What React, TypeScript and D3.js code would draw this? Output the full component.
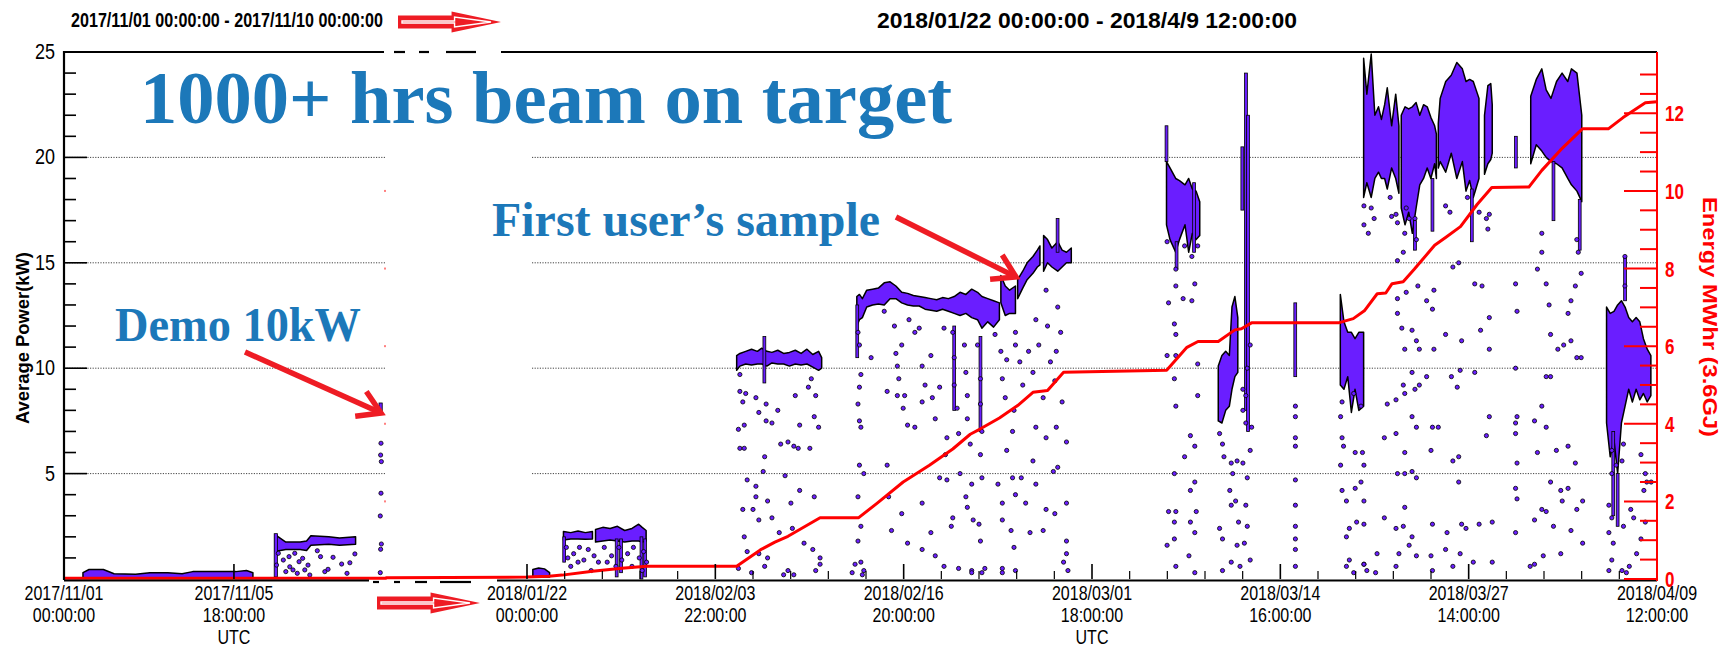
import * as d3 from "d3";

const DAY = 86400000;
const L0 = Date.UTC(2017, 10, 1);
const L1 = Date.UTC(2017, 10, 10);
const R0 = Date.UTC(2018, 0, 22);
const R1 = Date.UTC(2018, 3, 9, 12);

// ---- left panel (days since 2017/11/01), [day, low kW, high kW]
const bandNovLow = [[0.53,0.05,0.3],[0.7,0.05,0.45],[1.1,0.05,0.45],[1.4,0.05,0.25],[2.0,0.05,0.22],[2.4,0.05,0.3],[2.9,0.05,0.3],[3.3,0.05,0.25],[3.6,0.05,0.35],[4.2,0.05,0.35],[4.8,0.05,0.35],[5.1,0.05,0.4],[5.28,0.05,0.3]];
const bandNov2kW = [[5.9,1.3,2.1],[6.2,1.4,1.75],[6.6,1.4,1.75],[6.78,1.35,1.8],[6.9,1.6,2.05],[7.4,1.65,2.0],[7.7,1.6,1.95],[8.15,1.65,2.0]];
const streaksNov = [[5.92,0.1,2.15],[8.85,7.9,8.35]];
const pointsNov = [[5.94,0.66],[5.99,1.22],[6.13,0.9],[6.31,0.58],[6.4,0.43],[6.45,1.22],[6.57,0.82],[6.67,0.98],[6.73,0.43],[6.82,0.66],[7.08,1.34],[7.17,1.06],[7.29,0.35],[7.38,0.46],[7.52,1.03],[7.76,0.71],[7.91,0.27],[7.99,0.77],[8.13,1.19],[6.2,0.35],[6.52,0.27],[6.87,0.19],[6.29,1.06],
  [8.86,6.44],[8.85,5.88],[8.87,5.57],[8.86,4.07],[8.84,2.99],[8.87,1.66],[8.85,1.41],[8.84,0.3]];
const energyNov = [[0,0.02],[9,0.02]];

// ---- right panel (days since 2018/01/22), [day, low kW, high kW]
const bandJan22 = [[0.4,0.1,0.45],[0.8,0.1,0.52],[1.2,0.1,0.48],[1.55,0.1,0.3]];
const bandJan24 = [[2.5,1.85,2.25],[3.0,1.9,2.2],[3.5,1.9,2.28],[4.0,1.88,2.2],[4.49,1.9,2.25]];
const bandJan26 = [[4.7,1.75,2.35],[5.2,1.8,2.45],[5.7,1.85,2.4],[6.2,1.8,2.5],[6.7,1.75,2.3],[7.2,1.8,2.4],[7.66,1.8,2.6],[7.9,1.75,2.45],[8.17,1.8,2.3]];
const bandFeb5 = [[14.38,9.9,10.6],[14.6,10.1,10.7],[15.0,10.2,10.8],[15.4,10.15,10.9],[15.8,10.2,10.8],[16.1,10.2,10.95],[16.45,10.1,10.8],[16.8,10.25,10.75],[17.2,10.2,10.85],[17.6,10.2,10.7],[18.0,10.1,10.75],[18.4,10.2,10.85],[18.8,10.15,10.7],[19.2,10.2,10.9],[19.6,10.05,10.65],[20.0,9.9,10.8],[20.21,10.0,10.5]];
const bandFeb13 = [[22.62,12.0,13.4],[22.8,12.3,13.5],[23.0,12.4,13.3],[23.3,12.9,13.7],[23.7,13.0,13.75],[24.1,13.05,13.8],[24.5,13.0,14.05],[24.9,13.3,14.1],[25.3,13.3,13.9],[25.7,13.1,13.6],[26.1,13.0,13.55],[26.5,12.95,13.45],[26.9,12.95,13.4],[27.3,12.8,13.35],[27.7,12.75,13.3],[28.1,12.7,13.25],[28.5,12.8,13.35],[28.9,12.7,13.3],[29.3,12.6,13.4],[29.7,12.5,13.6],[30.1,12.6,13.5],[30.5,12.4,13.75],[30.9,12.3,13.6],[31.2,11.9,13.4],[31.6,12.2,13.3],[32.0,11.95,13.2],[32.4,12.3,13.1]];
const bandFeb23 = [[32.5,13.1,14.4],[32.8,12.5,13.9],[33.1,12.6,13.7],[33.5,12.6,13.9]];
const bandFeb24 = [[33.65,13.3,14.2],[34.0,13.8,14.6],[34.3,14.2,15.0],[34.7,14.5,15.3],[35.0,14.8,15.6],[35.18,14.9,15.8]];
const bandFeb26 = [[35.43,14.6,16.3],[35.7,15.0,16.1],[36.0,14.8,15.7],[36.4,14.6,16.0],[36.7,14.8,15.6],[37.0,15.0,15.5],[37.33,15.0,15.7]];
const bandMar6 = [[43.86,16.8,19.8],[44.1,16.1,19.5],[44.49,15.5,19.0],[44.75,16.1,18.9],[45.13,16.8,18.7],[45.38,15.5,19.0],[45.63,16.4,18.5],[45.89,16.1,18.4],[46.14,16.3,17.9]];
const bandMar9 = [[47.41,7.5,10.1],[47.66,7.4,10.6],[47.92,8.0,10.8],[48.17,8.2,10.6],[48.35,9.0,12.9],[48.55,9.6,13.4],[48.75,9.8,12.4]];
const bandMar17 = [[55.78,9.2,13.5],[56.03,9.0,12.2],[56.29,9.6,11.7],[56.54,7.9,11.7],[56.79,9.0,11.4],[57.05,8.0,11.7],[57.38,8.2,11.7]];
const bandMar19 = [[57.38,18.1,24.7],[57.6,18.8,23.0],[57.9,18.1,24.9],[58.15,19.0,22.0],[58.4,19.3,22.4],[58.6,19.0,21.8],[58.82,19.0,22.5],[59.0,18.5,23.3],[59.3,19.5,21.5],[59.58,19.0,23.0],[59.8,18.3,21.5]];
const bandMar21 = [[59.96,17.6,22.0],[60.22,16.8,22.4],[60.47,17.4,22.3],[60.72,16.4,22.4],[60.98,17.6,22.6],[61.23,18.7,22.0],[61.49,19.0,22.5],[61.74,19.5,22.4],[61.99,19.0,21.9],[62.25,19.7,21.5],[62.37,19.0,21.1]];
const bandMar24 = [[62.5,19.5,21.6],[62.63,19.8,22.8],[63.01,19.3,23.6],[63.39,20.2,23.9],[63.77,19.0,24.5],[64.15,19.8,24.2],[64.4,18.4,23.6],[64.65,18.9,23.7],[64.9,18.1,23.6],[65.29,19.0,22.8]];
const bandMar27 = [[65.67,19.2,22.0],[65.9,19.7,23.4],[66.1,19.9,23.5],[66.2,20.2,22.5]];
const bandMar30 = [[68.84,19.7,22.9],[69.22,20.6,23.7],[69.6,20.3,24.2],[69.9,20.0,23.2],[70.23,19.8,22.8],[70.61,19.7,23.6],[70.99,19.5,24.0],[71.38,19.0,23.6],[71.63,18.7,24.2],[72.01,18.4,24.0],[72.34,17.9,22.0]];
const bandApr5 = [[74.04,7.4,12.9],[74.29,5.8,12.6],[74.55,6.6,12.7],[74.8,5.0,13.0],[75.06,7.4,13.2],[75.31,8.2,12.9],[75.56,9.0,12.4],[75.81,8.4,12.2],[76.07,9.0,12.4],[76.32,8.5,12.2],[76.57,8.8,11.4],[76.83,8.4,10.9],[77.08,8.7,10.6]];
const streaksRight = [[2.55,0.8,2.0],[6.15,0.1,1.9],[6.45,0.3,1.9],[7.85,0.0,2.0],[8.1,0.1,1.9],[16.28,9.3,11.5],[22.65,10.5,13.0],[36.39,15.5,17.1],[43.86,19.8,21.5],[44.55,14.7,16.0],[45.75,15.5,18.8],[49.06,17.5,20.5],[49.31,8.0,24.0],[49.45,7.0,22.0],[52.69,9.6,13.1],[60.9,15.6,17.0],[62.1,16.5,19.0],[64.8,16.0,18.5],[67.82,19.5,21.0],[70.4,17.0,19.8],[72.2,15.6,18.0],[75.31,13.2,15.3],[74.5,3.0,7.0],[74.8,2.5,5.0],[29.3,8.0,12.0],[31.1,7.0,11.5]];

const pointsJan = [[2.7,1.5],[2.8,1.0],[3.0,0.6],[3.2,1.2],[3.5,0.8],[3.6,1.5],[3.9,0.9],[4.2,1.4],[4.4,0.4],[4.6,1.1],[4.9,0.8],[5.3,1.5],[5.5,0.8],[5.8,1.1],[6.1,0.6],[6.3,1.5],[6.5,0.9],[6.9,1.2],[7.2,0.6],[7.3,1.5],[7.7,1.0],[7.9,0.4],[8.0,1.3],[8.2,0.8]];
const pointsFeb = [[14.6,9.7],[14.6,8.9],[14.8,8.4],[14.9,7.3],[14.5,7.1],[14.6,6.2],[14.9,6.2],[15.1,4.7],[15.7,4.4],[15.7,3.9],[15.5,3.3],[14.8,3.3],[14.9,2.0],[14.5,0.5],[15.1,1.3],[15.0,8.8],[15.7,8.6],[15.9,7.9],[16.4,8.3],[16.4,7.5],[16.8,7.4],[17.2,8.0],[17.4,6.4],[17.9,6.5],[18.3,6.3],[18.6,6.2],[18.4,8.7],[18.7,7.3],[19.3,9.1],[19.5,9.5],[19.8,8.7],[19.7,7.7],[20.0,7.2],[19.4,6.2],[16.3,5.8],[16.2,5.1],[16.5,3.7],[17.7,4.9],[18.7,4.2],[19.7,3.9],[18.1,3.6],[15.9,2.8],[16.8,2.9],[17.3,2.2],[18.2,2.4],[19.0,1.7],[19.6,1.4],[20.1,1.0],[15.9,1.2],[16.5,1.0],[15.4,0.3],[17.9,0.4],[19.8,0.4],[16.3,0.6],[20.1,0.7],[17.6,0.2],[18.3,0.2]];
const pointsFebMar = [[22.7,11.7],[22.8,11.1],[22.9,9.7],[22.8,9.1],[22.7,8.3],[22.8,7.5],[22.9,7.2],[22.8,5.4],[23.1,5.0],[22.7,3.9],[22.9,2.5],[22.7,1.8],[22.9,0.8],[23.1,0.4],[22.3,0.3],[22.5,0.7],[23.0,0.2],
  [23.6,10.5],[24.5,12.7],[24.7,8.9],[24.7,5.4],[24.8,3.9],[25.2,12.0],[25.3,10.7],[25.4,10.1],[25.7,11.1],[25.5,9.5],[25.9,8.7],[26.1,7.3],[25.7,3.1],[26.1,1.7],[25.0,2.3],[25.4,8.7],[25.8,8.1],
  [26.2,12.3],[26.6,11.7],[26.9,11.9],[27.1,10.1],[27.3,9.2],[27.7,10.6],[27.8,8.6],[28.3,9.1],[28.6,11.9],[28.8,6.7],[26.6,7.2],[27.1,8.4],[27.7,2.2],[28.0,7.6],[27.1,3.6],[28.3,4.8],[28.7,5.9],[28.8,4.7],[29.1,2.5],[27.1,1.4],[28.0,1.1],[28.6,0.6],
  [29.2,11.7],[29.3,10.5],[29.3,9.2],[29.5,8.1],[29.6,6.9],[29.7,5.0],[30.0,11.1],[30.1,9.8],[30.2,8.7],[30.2,7.6],[30.4,6.4],[30.5,4.5],[30.2,3.4],[30.6,2.8],[30.9,11.1],[31.1,9.5],[31.1,8.3],[31.2,7.0],[31.1,5.9],[31.2,4.8],[31.0,2.6],[31.1,1.8],[31.4,0.5],[30.5,0.4],[29.6,0.5],[29.2,2.9],[30.1,3.9],[30.5,0.3],[31.2,0.3],[32.6,0.3],
  [32.1,11.6],[32.5,10.8],[32.6,9.5],[32.8,8.6],[32.9,10.4],[33.5,11.7],[33.5,11.1],[33.8,10.3],[34.0,9.2],[33.4,8.0],[33.3,7.0],[32.9,6.1],[33.3,4.8],[32.6,3.6],[33.5,4.0],[32.6,2.8],[33.2,2.3],[33.4,1.5],[32.6,0.5],[33.5,0.4],[33.9,4.8],[32.3,4.5],
  [34.4,10.8],[34.7,9.8],[34.9,12.3],[35.1,11.1],[35.4,8.6],[35.6,13.7],[35.7,12.0],[35.9,10.3],[36.2,9.4],[36.3,10.8],[36.4,12.9],[36.6,11.7],[36.7,8.4],[34.9,7.2],[35.6,6.7],[36.3,7.2],[37.0,6.5],[34.7,5.6],[36.1,5.1],[36.4,5.3],[34.9,4.5],[34.2,3.6],[35.6,3.3],[37.0,3.6],[36.2,3.1],[34.5,2.2],[37.0,1.8],[37.0,1.2],[36.8,0.8],[37.1,0.4],[35.4,2.3]];
const pointsMar = [[43.9,16.0],[44.5,14.7],[44.5,13.9],[44.0,13.1],[44.4,12.1],[44.5,11.6],[44.5,10.6],[43.9,10.6],[46.0,10.2],[44.4,9.5],[44.5,8.2],[46.0,8.7],[45.1,5.8],[45.8,6.3],[45.5,6.8],[45.8,4.6],[44.4,5.0],[45.5,4.2],[44.5,3.2],[44.0,3.2],[45.9,3.2],[45.5,2.7],[44.4,2.7],[45.8,2.2],[43.9,1.6],[44.4,1.9],[44.5,0.6],[45.4,1.1],[45.8,0.3],[45.6,13.2],[45.0,13.3],[45.8,14.0],[46.0,15.8],[45.6,15.3],[45.1,15.8],
  [47.5,6.9],[47.7,6.4],[47.8,5.8],[48.3,5.5],[48.4,5.0],[49.1,5.5],[48.7,5.6],[48.2,4.2],[48.3,3.5],[48.6,3.7],[47.5,2.4],[47.7,1.9],[48.8,2.7],[49.2,1.7],[49.3,3.5],[49.4,4.8],[49.6,6.1],[49.7,7.2],[49.3,7.4],[49.1,9.0],[49.4,2.5],[49.6,0.9],[48.3,0.8],[47.7,0.4],[48.9,0.6],[48.7,1.6],[49.6,11.1],[49.4,10.0],[49.3,8.7],[49.1,8.0],
  [52.7,8.2],[52.7,7.7],[52.7,6.7],[52.7,6.3],[52.7,4.7],[52.7,3.5],[52.7,2.5],[52.7,1.9],[52.7,1.4],[52.7,0.6],
  [55.8,7.7],[55.9,6.7],[56.0,6.3],[55.8,5.4],[56.8,6.0],[57.3,6.0],[57.4,5.4],[57.2,4.6],[55.9,4.2],[56.2,3.7],[57.4,3.7],[56.8,4.3],[56.4,2.4],[56.9,2.7],[57.4,2.6],[56.2,2.0],[56.4,0.9],[56.2,0.6],[57.4,0.7],[56.7,0.3],[55.9,8.4],[57.2,8.2],[56.7,8.8]];
const pointsMarApr = [[57.4,17.7],[57.9,17.6],[57.7,16.4],[57.4,16.8],[58.1,17.1],[59.2,18.1],[59.3,17.2],[59.7,16.9],[59.6,17.3],[60.3,17.6],[60.5,17.1],[60.9,17.1],[61.0,16.1],[60.2,16.4],[60.1,15.5],[59.7,15.1],[63.0,17.7],[63.3,17.4],[64.5,18.1],[65.3,17.4],[65.8,17.1],[66.0,17.3],[65.9,16.6],[65.5,13.9],[66.0,12.4],[65.0,14.0],[63.9,15.0],[63.5,14.8],[62.2,13.7],[61.7,13.2],[62.1,12.8],[61.1,13.9],[60.3,13.6],[59.7,13.3],[59.7,12.6],[60.0,11.9],[60.7,11.8],[61.0,11.3],[61.2,10.9],[60.2,10.9],[60.7,9.8],[61.2,9.2],[60.1,9.2],[60.2,8.8],[60.9,9.0],[61.7,9.6],[62.2,10.9],[63.0,11.6],[63.4,9.6],[64.0,9.9],[63.8,9.1],[65.0,9.8],[66.0,10.9],[64.1,11.3],[65.4,11.8],
  [59.6,8.5],[59.0,8.3],[60.7,7.7],[61.0,7.2],[62.1,7.2],[62.5,7.2],[66.0,7.7],[58.8,6.7],[59.6,6.9],[60.2,6.0],[60.2,5.0],[59.7,5.0],[60.7,5.1],[61.0,4.8],[62.0,6.1],[63.5,5.6],[63.9,5.8],[63.9,4.6],[65.8,6.8],[58.8,2.9],[59.6,2.4],[60.2,3.4],[60.1,2.5],[60.7,2.0],[62.1,2.6],[63.1,2.2],[64.1,2.6],[64.4,2.4],[65.3,2.6],[66.2,2.7],[59.8,1.2],[60.5,1.6],[61.0,1.1],[62.0,1.1],[63.0,1.4],[64.0,1.2],[59.6,0.6],[62.1,0.4],[63.5,0.6],[64.9,0.8],[66.2,0.8],[58.3,1.2],[58.2,0.3],[57.6,0.4],[57.4,0.7],
  [67.8,14.0],[67.9,12.7],[67.8,10.0],[67.9,7.7],[67.8,7.4],[67.8,6.9],[67.9,5.5],[67.8,4.3],[67.9,3.8],[67.8,2.2],[69.6,16.4],[69.6,15.5],[69.3,14.7],[70.1,13.0],[69.9,14.0],[70.2,11.6],[70.7,10.9],[71.1,11.1],[71.4,12.6],[71.6,13.2],[71.9,13.9],[72.0,16.1],[72.3,14.5],[72.1,15.5],[72.3,10.5],[72.0,10.5],[71.6,11.3],[70.2,9.6],[69.9,9.6],[69.6,8.2],[69.1,7.5],[69.9,7.2],[69.3,6.0],[70.6,6.1],[71.4,6.3],[71.9,5.5],[70.2,4.6],[69.6,3.3],[69.9,3.2],[70.9,4.2],[71.0,3.7],[71.4,4.3],[72.4,3.7],[72.0,3.3],[69.1,2.8],[70.4,2.5],[70.9,1.2],[69.7,1.1],[69.1,0.7],[68.8,0.6],[71.6,2.3],[72.4,1.7]];
const pointsApr = [[74.4,6.1],[74.7,5.4],[74.4,5.0],[75.1,5.6],[75.2,6.4],[74.2,3.5],[74.4,2.9],[74.2,2.2],[74.5,1.7],[75.2,2.5],[74.4,0.9],[74.2,0.4],[75.1,0.4],[75.6,0.6],[76.1,1.2],[76.4,1.9],[75.9,2.9],[75.7,3.3],[76.6,4.2],[76.7,5.0],[76.4,5.9],[76.8,4.6],[77.1,4.6],[76.7,2.7],[75.3,13.9],[75.3,15.3],[75.4,0.3]];

// cumulative energy, MWhr, [day, E]
const energyRight = [[-9.66,0.03],[0,0.05],[1.5,0.07],[2.4,0.1],[4.5,0.2],[6.5,0.28],[8.2,0.33],[14.38,0.33],[16.0,0.75],[17.0,0.95],[17.9,1.1],[20.1,1.58],[22.75,1.58],[24.0,1.95],[25.8,2.5],[27.6,2.93],[29.2,3.35],[30.4,3.73],[31.1,3.87],[32.4,4.15],[33.65,4.47],[34.7,4.81],[35.7,4.86],[36.8,5.33],[43.87,5.38],[45.26,5.97],[46.02,6.12],[47.41,6.12],[48.55,6.42],[49.0,6.45],[49.69,6.6],[55.65,6.6],[56.67,6.71],[57.43,6.91],[58.31,7.35],[58.9,7.37],[59.33,7.61],[60.09,7.66],[60.85,7.98],[62.25,8.6],[63.0,8.8],[64.02,9.08],[65.16,9.65],[66.17,10.09],[68.71,10.1],[69.6,10.53],[70.87,11.05],[72.38,11.6],[74.16,11.6],[75.17,11.89],[76.7,12.27],[77.5,12.3]];

const powerTicks = [5, 10, 15, 20, 25];
const energyTicks = [0, 2, 4, 6, 8, 10, 12];

const PURPLE = "#6a1eff";
const RED = "#ff0000";
const ARROW = "#ee1c24";
const BLUE = "#1c78b9";
const SANS = "Liberation Sans, Arial, Helvetica, sans-serif";
const SERIF = "Liberation Serif, Times New Roman, serif";

function Txt(props: any) {
  const { x, y, sy = 1, anchor = "middle", size = 16, weight = "normal", fill = "#000", family = SANS, len, rotate = 0, children } = props;
  return (
    <text
      transform={`translate(${x},${y}) rotate(${rotate}) scale(1,${sy})`}
      textAnchor={anchor}
      fontSize={size}
      fontWeight={weight}
      fill={fill}
      fontFamily={family}
      textLength={len}
      lengthAdjust={len ? "spacingAndGlyphs" : undefined}
    >
      {children}
    </text>
  );
}

function BlockArrow({ x0, x1, cy }: any) {
  const xh = x0 + (x1 - x0) * 0.52;
  const outer = `M${x0},${cy - 6.5} L${xh},${cy - 6.5} L${xh},${cy - 10.5} L${x1},${cy} L${xh},${cy + 10.5} L${xh},${cy + 6.5} L${x0},${cy + 6.5} Z`;
  const inner = `M${x0 + 4},${cy - 1} L${xh + 3},${cy - 1} L${xh + 3},${cy - 5} L${x1 - 10},${cy} L${xh + 3},${cy + 5} L${xh + 3},${cy + 1} L${x0 + 4},${cy + 1} Z`;
  return (
    <g>
      <path d={outer} fill={ARROW} />
      <path d={inner} fill={ARROW} stroke="#fff" strokeWidth={1.4} />
    </g>
  );
}

function LineArrow({ x0, y0, x1, y1 }: any) {
  const a = Math.atan2(y1 - y0, x1 - x0);
  const L = 26;
  const w1 = [x1 - L * Math.cos(a - 0.55), y1 - L * Math.sin(a - 0.55)];
  const w2 = [x1 - L * Math.cos(a + 0.55), y1 - L * Math.sin(a + 0.55)];
  return (
    <g stroke={ARROW} strokeWidth={5.5} fill="none" strokeLinecap="butt">
      <line x1={x0} y1={y0} x2={x1 - 3 * Math.cos(a)} y2={y1 - 3 * Math.sin(a)} />
      <polyline points={`${w1[0]},${w1[1]} ${x1},${y1} ${w2[0]},${w2[1]}`} strokeLinejoin="miter" />
    </g>
  );
}

export default function App() {
  const W = 1735, H = 648;
  const X0 = 64, XR = 1657, YT = 52, YB = 579;
  const xL = d3.scaleUtc().domain([L0, L1]).range([X0, 386]);
  const xR = d3.scaleUtc().domain([R0, R1]).range([527, XR]);
  const y = d3.scaleLinear().domain([0, 25]).range([YB, YT]);
  const yE = d3.scaleLinear().domain([0, 13.58]).range([YB, YT]);
  const lx = (d: number) => xL(L0 + d * DAY);
  const rx = (d: number) => xR(R0 + d * DAY);

  const areaFor = (sx: (d: number) => number) =>
    d3.area<number[]>().x((d) => sx(d[0])).y0((d) => y(d[1])).y1((d) => y(d[2]));
  const areaL = areaFor(lx);
  const areaR = areaFor(rx);

  const leftBands = [bandNovLow, bandNov2kW];
  const rightBands = [bandJan22, bandJan24, bandJan26, bandFeb5, bandFeb13, bandFeb23, bandFeb24, bandFeb26, bandMar6, bandMar9, bandMar17, bandMar19, bandMar21, bandMar24, bandMar27, bandMar30, bandApr5];
  const rightPoints = [...pointsJan, ...pointsFeb, ...pointsFebMar, ...pointsMar, ...pointsMarApr, ...pointsApr];

  const energyPts: [number, number][] = [
    ...energyNov.map((d) => [lx(d[0]), yE(d[1])] as [number, number]),
    ...energyRight.map((d) => [rx(d[0]), yE(d[1])] as [number, number]),
  ];
  const energyLine = d3.line()(energyPts) || "";

  // time ticks
  const step = (12 * 24 + 22) * 3600 * 1000;
  const rMajor = d3.range(0, 7).map((i) => R0 + i * step);
  const rMinor = d3.range(0, 31).map((i) => R0 + (i * step) / 5).filter((_, i) => i % 5 !== 0);
  const lMajor = [L0, L0 + 4.75 * DAY];
  const fDate = d3.utcFormat("%Y/%m/%d");
  const fTime = d3.utcFormat("%H:%M:%S");

  const minorPower = d3.range(1, 25).filter((v) => v % 5 !== 0);
  const minorEnergy = d3.range(0.5, 13.5, 0.5).filter((v) => v % 2 !== 0);

  const dot = (cx: number, cy: number, k: string) => (
    <circle key={k} cx={cx} cy={cy} r={2.1} fill={PURPLE} stroke="#000" strokeWidth={0.8} />
  );

  return (
    <svg width={W} height={H} style={{ position: "absolute", left: 0, top: 0, background: "#fff" }}>
      <rect width={W} height={H} fill="#fff" />

      {/* grid */}
      <g stroke="#444" strokeWidth={1} strokeDasharray="1.2,1.4">
        {powerTicks.slice(0, 4).map((v) => (
          <g key={v}>
            <line x1={X0} x2={385} y1={y(v)} y2={y(v)} />
            <line x1={532} x2={XR} y1={y(v)} y2={y(v)} />
          </g>
        ))}
      </g>

      {/* power data */}
      <g fill={PURPLE} stroke="#000" strokeWidth={1.5} strokeLinejoin="round">
        {leftBands.map((b, i) => <path key={"lb" + i} d={areaL(b) || ""} />)}
        {rightBands.map((b, i) => <path key={"rb" + i} d={areaR(b) || ""} />)}
      </g>
      <g fill={PURPLE} stroke="#000" strokeWidth={0.8}>
        {streaksNov.map((s, i) => (
          <rect key={"ls" + i} x={lx(s[0]) - 1.6} y={y(s[2])} width={3.2} height={y(s[1]) - y(s[2])} />
        ))}
        {streaksRight.map((s, i) => (
          <rect key={"rs" + i} x={rx(s[0]) - 1.4} y={y(s[2])} width={2.8} height={y(s[1]) - y(s[2])} />
        ))}
      </g>
      <g>
        {pointsNov.map((p, i) => dot(lx(p[0]), y(p[1]), "lp" + i))}
        {rightPoints.map((p, i) => dot(rx(p[0]), y(p[1]), "rp" + i))}
      </g>

      {/* energy */}
      <path d={energyLine} fill="none" stroke={RED} strokeWidth={3} strokeLinejoin="round" />
      {energyTicks.slice(1, 6).map((v) => (
        <rect key={"rm" + v} x={384} y={yE(v) - 1} width={2} height={2} fill="#ff8080" />
      ))}

      {/* frame & left axis */}
      <g stroke="#000" strokeWidth={2.2} fill="none">
        <line x1={X0} x2={X0} y1={YT - 1} y2={YB + 1} />
        <line x1={X0} x2={384} y1={YT} y2={YT} />
        <line x1={394} x2={405} y1={YT} y2={YT} />
        <line x1={419} x2={429} y1={YT} y2={YT} />
        <line x1={446} x2={476} y1={YT} y2={YT} />
        <line x1={501} x2={XR} y1={YT} y2={YT} />
        <line x1={X0} x2={369} y1={YB + 1.5} y2={YB + 1.5} />
        <line x1={373} x2={379} y1={YB + 3} y2={YB + 3} />
        <line x1={394} x2={400} y1={YB + 3} y2={YB + 3} />
        <line x1={415} x2={427} y1={YB + 3} y2={YB + 3} />
        <line x1={440} x2={471} y1={YB + 3} y2={YB + 3} />
        <line x1={497} x2={XR} y1={YB + 1.5} y2={YB + 1.5} />
      </g>
      <g stroke="#000" strokeWidth={1.6}>
        {powerTicks.map((v) => <line key={"pt" + v} x1={X0} x2={X0 + 23} y1={y(v)} y2={y(v)} />)}
        {minorPower.map((v) => <line key={"pm" + v} x1={X0} x2={X0 + 12} y1={y(v)} y2={y(v)} />)}
        {lMajor.map((t) => <line key={"lt" + t} x1={xL(t)} x2={xL(t)} y1={YB} y2={YB - 15} />)}
        {rMajor.map((t) => <line key={"rt" + t} x1={xR(t)} x2={xR(t)} y1={YB} y2={YB - 15} />)}
      </g>
      <g stroke="#000" strokeWidth={1.2}>
        {rMinor.map((t) => <line key={"rn" + t} x1={xR(t)} x2={xR(t)} y1={YB} y2={YB - 8} />)}
      </g>
      {powerTicks.map((v) => (
        <Txt key={"pl" + v} x={55} y={y(v) + 7} sy={1.2} anchor="end" size={18}>{v}</Txt>
      ))}

      {/* right energy axis */}
      <g stroke={RED} strokeWidth={2}>
        <line x1={XR} x2={XR} y1={YT} y2={YB + 2} />
        {energyTicks.map((v) => <line key={"et" + v} x1={XR} x2={XR - 33} y1={yE(v)} y2={yE(v)} />)}
        {minorEnergy.map((v) => <line key={"em" + v} x1={XR} x2={XR - 17} y1={yE(v)} y2={yE(v)} />)}
      </g>
      {energyTicks.map((v) => (
        <Txt key={"el" + v} x={1665} y={yE(v) + 8} sy={1.25} anchor="start" size={17} weight="bold" fill={RED}>{v}</Txt>
      ))}

      {/* time labels */}
      {[...lMajor.map((t) => [xL(t), t, t === lMajor[1]]), ...rMajor.map((t, i) => [xR(t), t, i === 3])].map(([x, t, utc]: any) => (
        <g key={"tl" + t}>
          <Txt x={x} y={600} sy={1.25} size={16}>{fDate(new Date(t))}</Txt>
          <Txt x={x} y={622} sy={1.25} size={16}>{fTime(new Date(t))}</Txt>
          {utc && <Txt x={x} y={644} sy={1.25} size={16}>UTC</Txt>}
        </g>
      ))}

      {/* axis titles */}
      <Txt x={29} y={338} rotate={-90} size={19} weight="bold" len={172}>Average Power(kW)</Txt>
      <Txt x={1703} y={317} rotate={90} size={20} weight="bold" fill={RED} len={240}>Energy MWhr (3.6GJ)</Txt>

      {/* headers */}
      <Txt x={71} y={27} sy={1.3} anchor="start" size={16} weight="bold" len={312}>2017/11/01 00:00:00 - 2017/11/10 00:00:00</Txt>
      <Txt x={877} y={28} sy={1.2} anchor="start" size={19} weight="bold" len={420}>2018/01/22 00:00:00 - 2018/4/9 12:00:00</Txt>
      <BlockArrow x0={398} x1={501} cy={22} />
      <BlockArrow x0={377} x1={480} cy={603} />

      {/* annotations */}
      <Txt x={140} y={123} anchor="start" size={74} weight="bold" fill={BLUE} family={SERIF} len={812}>1000+ hrs beam on target</Txt>
      <Txt x={492} y={236} anchor="start" size={48} weight="bold" fill={BLUE} family={SERIF} len={388}>First user’s sample</Txt>
      <Txt x={115} y={341} anchor="start" size={48} weight="bold" fill={BLUE} family={SERIF} len={246}>Demo 10kW</Txt>
      <LineArrow x0={245} y0={352} x1={381} y1={413} />
      <LineArrow x0={896} y0={217} x1={1016} y1={277} />
    </svg>
  );
}
